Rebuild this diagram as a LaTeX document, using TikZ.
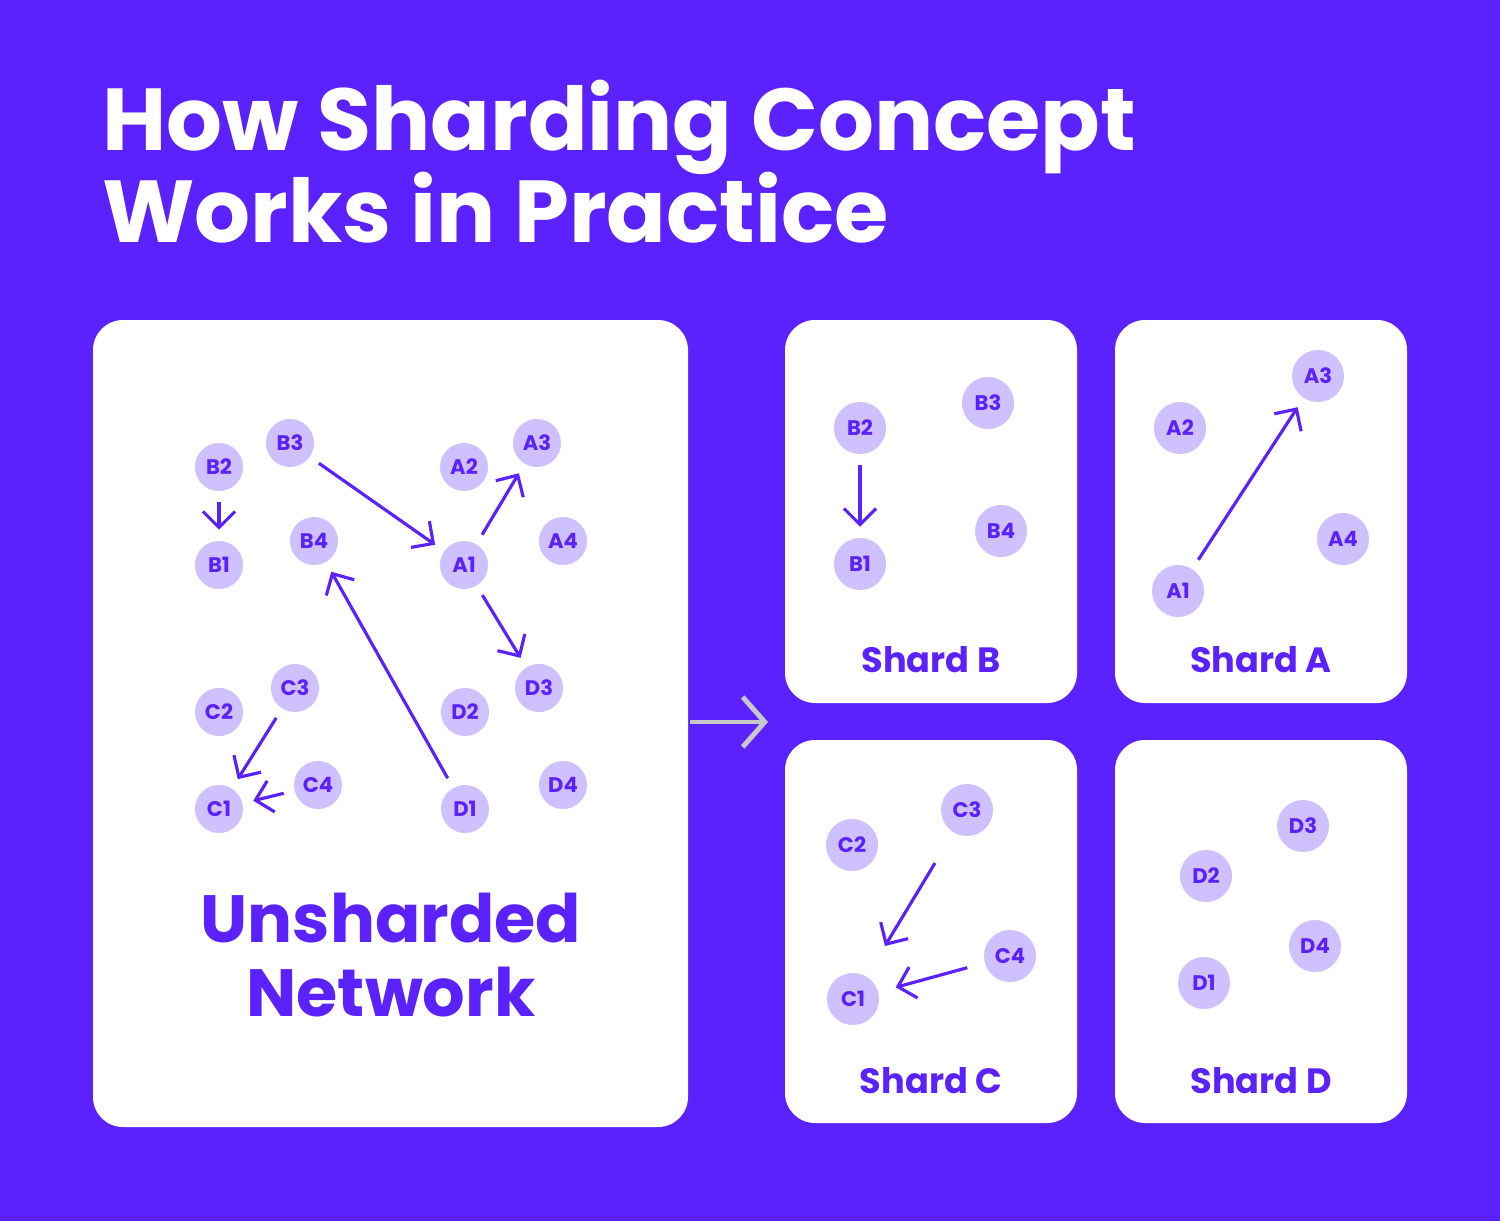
\documentclass[tikz,border=0pt]{standalone}
\usepackage{fontspec}
\setmainfont{Poppins}
\usetikzlibrary{arrows.meta,positioning}
\definecolor{brand}{HTML}{5B22FF}
\definecolor{bubble}{HTML}{CFC0FF}
\definecolor{pale}{HTML}{C8C8C8}
\begin{document}
\begin{tikzpicture}[x=0.01cm,y=-0.01cm,
    panel/.style={fill=white,rounded corners=0.3cm},
    peer/.style={circle,fill=bubble,text=brand,minimum size=0.48cm,inner sep=0pt,font=\fontsize{6}{6}\selectfont\bfseries},
    bigpeer/.style={peer,minimum size=0.52cm},
    link/.style={draw=brand,line width=0.9pt,-{Straight Barb[length=1.6mm,width=3.2mm]},shorten >=3pt,shorten <=3pt},
    caption/.style={text=brand,font=\fontsize{10}{10}\selectfont\bfseries}]
  \fill[brand] (0,0) rectangle (1500,1221);
  \useasboundingbox (0,0) rectangle (1500,1221);
  % title
  \node[anchor=base west,text=white,align=left,font=\fontsize{25}{26}\selectfont\bfseries] (title) at (90,150) {How Sharding Concept};
  \node[anchor=base west,text=white,font=\fontsize{25}{26}\selectfont\bfseries] (title2) at (90,242) {Works in Practice};
  % panels
  \fill[panel] (93,320) rectangle (688,1127);
  \fill[panel] (785,320) rectangle (1077,703);
  \fill[panel] (1115,320) rectangle (1407,703);
  \fill[panel] (785,740) rectangle (1077,1123);
  \fill[panel] (1115,740) rectangle (1407,1123);
  % unsharded network
  \node[peer] (B2) at (219,467) {B2};
  \node[peer] (B3) at (290,443) {B3};
  \node[peer] (A2) at (464,467) {A2};
  \node[peer] (A3) at (537,443) {A3};
  \node[peer] (B1) at (219,565) {B1};
  \node[peer] (B4) at (314,541) {B4};
  \node[peer] (A1) at (464,565) {A1};
  \node[peer] (A4) at (563,541) {A4};
  \node[peer] (C2) at (219,712) {C2};
  \node[peer] (C3) at (295,688) {C3};
  \node[peer] (D2) at (465,712) {D2};
  \node[peer] (D3) at (539,688) {D3};
  \node[peer] (C1) at (219,809) {C1};
  \node[peer] (C4) at (318,785) {C4};
  \node[peer] (D1) at (465,809) {D1};
  \node[peer] (D4) at (563,785) {D4};
  \draw[link] (B2) -- (B1);
  \draw[link] (B3) -- (A1);
  \draw[link] (A1) -- (A3);
  \draw[link] (A1) -- (D3);
  \draw[link] (D1) -- (B4);
  \draw[link] (C3) -- (C1);
  \draw[link] (C4) -- (C1);
  \node[text=brand,align=center,font=\fontsize{19}{21}\selectfont\bfseries] (unsharded) at (391,955) {Unsharded\\Network};
  % shard B
  \node[bigpeer] (sB2) at (860,428) {B2};
  \node[bigpeer] (sB3) at (988,403) {B3};
  \node[bigpeer] (sB4) at (1001,531) {B4};
  \node[bigpeer] (sB1) at (860,564) {B1};
  \draw[link] (sB2) -- (sB1);
  \node[caption] (shardB) at (931,660) {Shard B};
  % shard A
  \node[bigpeer] (sA2) at (1180,428) {A2};
  \node[bigpeer] (sA3) at (1318,376) {A3};
  \node[bigpeer] (sA4) at (1343,539) {A4};
  \node[bigpeer] (sA1) at (1178,591) {A1};
  \draw[link] (sA1) -- (sA3);
  \node[caption] (shardA) at (1261,660) {Shard A};
  % shard C
  \node[bigpeer] (sC2) at (852,845) {C2};
  \node[bigpeer] (sC3) at (967,810) {C3};
  \node[bigpeer] (sC4) at (1010,956) {C4};
  \node[bigpeer] (sC1) at (853,999) {C1};
  \draw[link,shorten <=10pt,shorten >=10pt] (sC3) -- (sC1);
  \draw[link,shorten <=5pt,shorten >=5pt] (sC4) -- (sC1);
  \node[caption] (shardC) at (931,1081) {Shard C};
  % shard D
  \node[bigpeer] (sD3) at (1303,826) {D3};
  \node[bigpeer] (sD2) at (1206,876) {D2};
  \node[bigpeer] (sD4) at (1315,946) {D4};
  \node[bigpeer] (sD1) at (1204,983) {D1};
  \node[caption] (shardD) at (1261,1081) {Shard D};
  % split arrow
  \coordinate (from) at (690,722);
  \coordinate (to) at (768,722);
  \draw[pale,line width=1.4pt,-{Straight Barb[length=2.2mm,width=5mm]}] (from) -- (to);
\end{tikzpicture}
\end{document}
